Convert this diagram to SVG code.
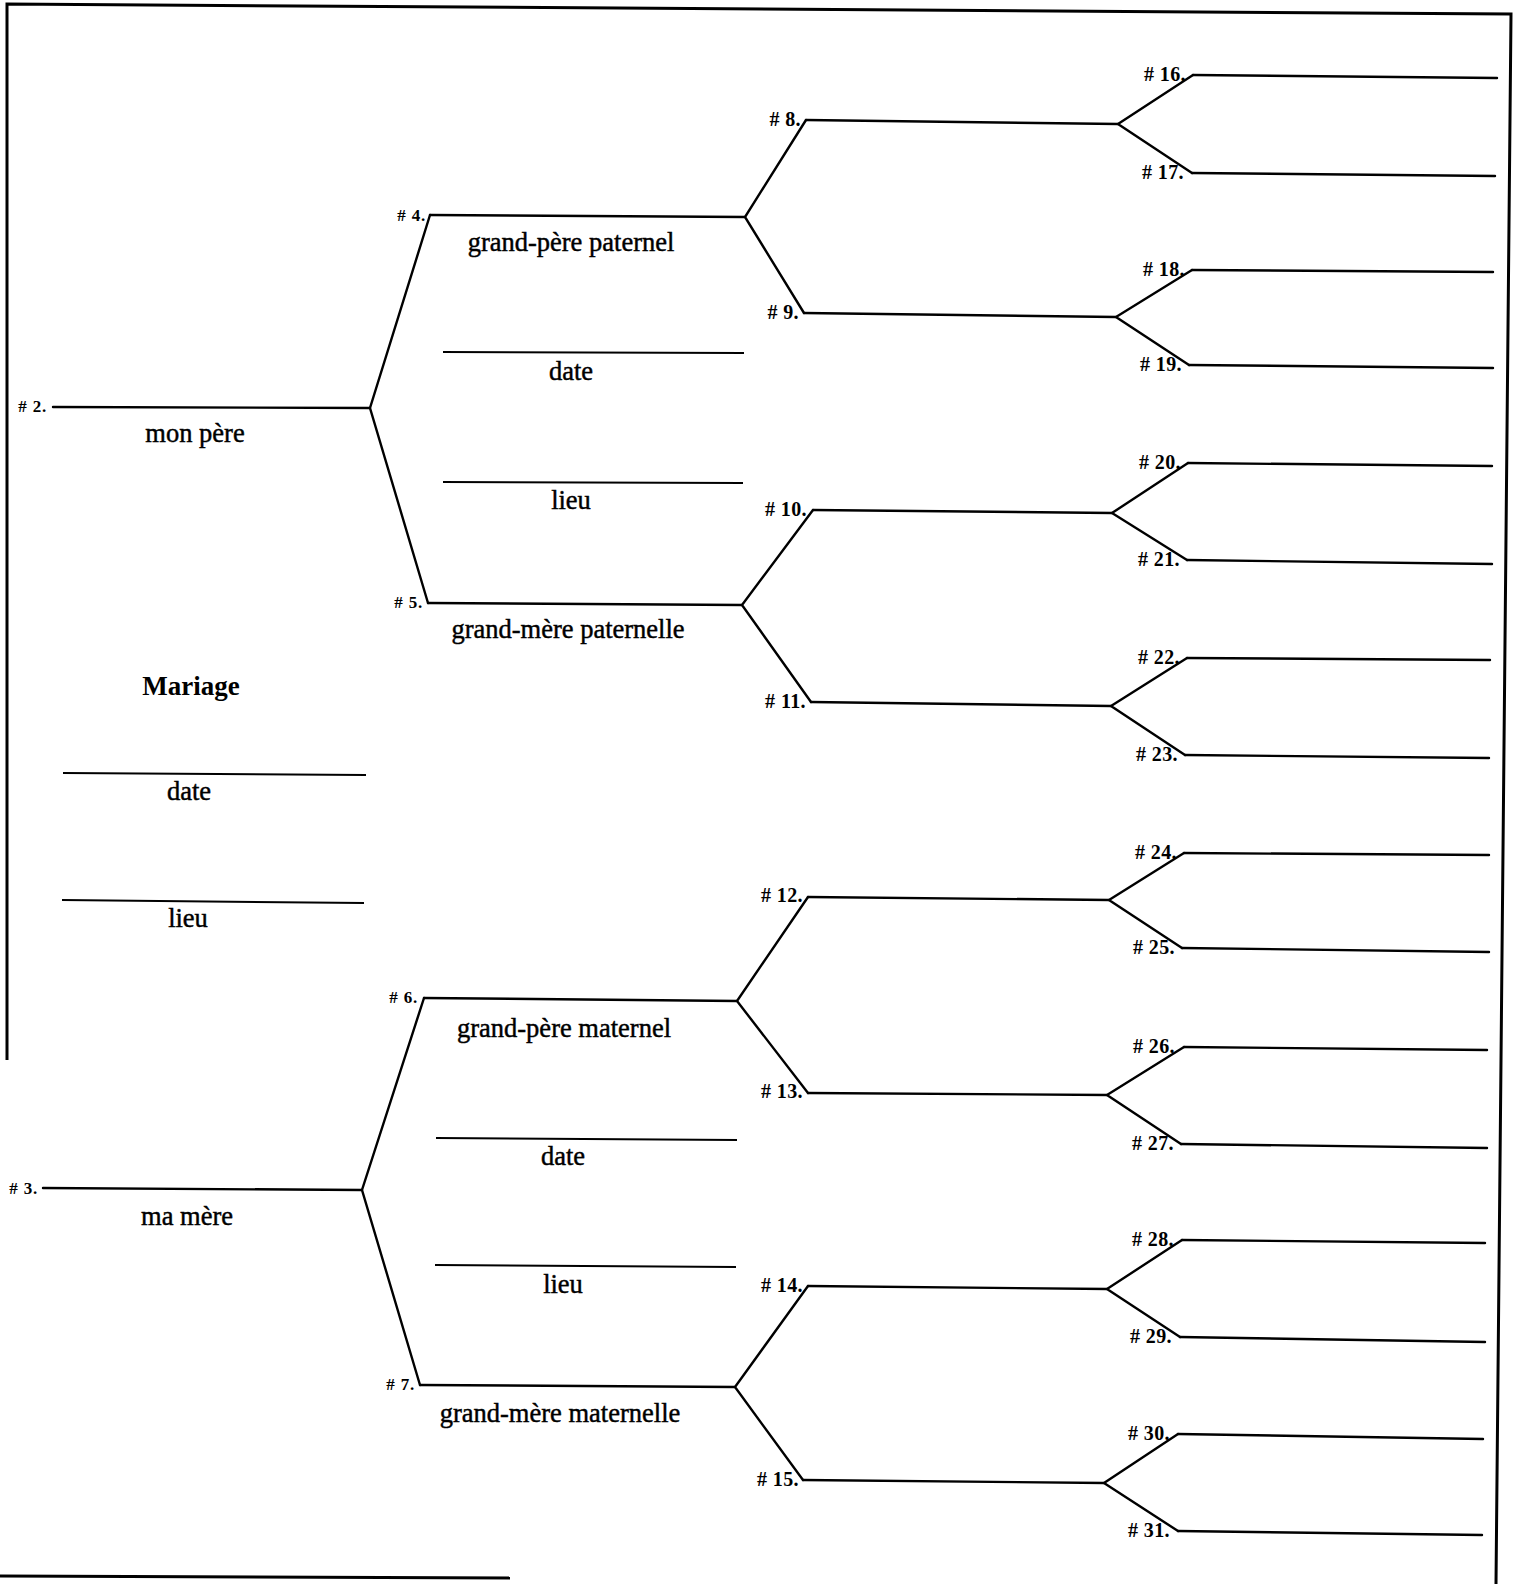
<svg xmlns="http://www.w3.org/2000/svg" width="1522" height="1584" viewBox="0 0 1522 1584">
<style>
.ln{stroke:#000;stroke-width:2.4;fill:none;stroke-linecap:round}
.bl{stroke:#000;stroke-width:2;fill:none}
.bd{stroke:#000;stroke-width:3;fill:none}
.nm{font-family:"Liberation Serif","Times New Roman",serif;font-size:26.5px;fill:#000;stroke:#000;stroke-width:0.45;text-anchor:middle}
.mr{font-family:"Liberation Serif","Times New Roman",serif;font-size:27px;font-weight:bold;fill:#000;text-anchor:middle}
.s{font-family:"Liberation Serif","Times New Roman",serif;font-size:17px;font-weight:bold;letter-spacing:0.8px;fill:#000;text-anchor:end}
.m{font-family:"Liberation Serif","Times New Roman",serif;font-size:20px;font-weight:bold;letter-spacing:0.4px;fill:#000;text-anchor:end}
</style>
<rect width="1522" height="1584" fill="#fff"/>
<g id="border">
<path class="bd" d="M7,1060 L7,4 L1511,14 L1496,1584"/>
<path class="bd" d="M0,1576 L510,1578"/>
</g>
<g id="connectors">
<path class="ln" d="M430,215 L370,408 L428,603"/>
<path class="ln" d="M424,998 L362,1190 L420,1385"/>
<path class="ln" d="M806,120 L745,217 L804,313"/>
<path class="ln" d="M813,510 L742,605 L811,702"/>
<path class="ln" d="M808,897 L737,1001 L808,1093"/>
<path class="ln" d="M808,1286 L735,1387 L803,1480"/>
<path class="ln" d="M1193,75 L1118,124 L1192,173"/>
<path class="ln" d="M1192,270 L1116,317 L1189,365"/>
<path class="ln" d="M1188,463 L1112,513 L1187,560"/>
<path class="ln" d="M1187,658 L1111,706 L1185,755"/>
<path class="ln" d="M1184,853 L1109,900 L1182,948"/>
<path class="ln" d="M1184,1047 L1107,1095 L1181,1144"/>
<path class="ln" d="M1182,1240 L1107,1289 L1180,1337"/>
<path class="ln" d="M1178,1434 L1104,1483 L1178,1531"/>
</g>
<g id="n2"><path class="ln" d="M53,407 L370,408"/><text class="s" x="47" y="412">#  2.</text><text class="nm" x="195" y="442">mon père</text></g>
<g id="n3"><path class="ln" d="M43,1188 L362,1190"/><text class="s" x="38" y="1194">#  3.</text><text class="nm" x="187" y="1225">ma mère</text></g>
<g id="mariage"><text class="mr" x="191" y="695">Mariage</text><path class="bl" d="M63,773 L366,775"/><text class="nm" x="189" y="800">date</text><path class="bl" d="M62,900 L364,903"/><text class="nm" x="188" y="927">lieu</text></g>
<g id="n4"><path class="ln" d="M430,215 L745,217"/><text class="s" x="426" y="221">#  4.</text><text class="nm" x="571" y="251">grand-père paternel</text></g>
<g id="info-paternel"><path class="bl" d="M443,352 L744,353"/><text class="nm" x="571" y="380">date</text><path class="bl" d="M443,482 L743,483"/><text class="nm" x="571" y="509">lieu</text></g>
<g id="n5"><path class="ln" d="M428,603 L742,605"/><text class="s" x="423" y="608">#  5.</text><text class="nm" x="568" y="638">grand-mère paternelle</text></g>
<g id="n6"><path class="ln" d="M424,998 L737,1001"/><text class="s" x="418" y="1003">#  6.</text><text class="nm" x="564" y="1037">grand-père maternel</text></g>
<g id="info-maternel"><path class="bl" d="M436,1138 L737,1140"/><text class="nm" x="563" y="1165">date</text><path class="bl" d="M435,1265 L736,1267"/><text class="nm" x="563" y="1293">lieu</text></g>
<g id="n7"><path class="ln" d="M420,1385 L735,1387"/><text class="s" x="415" y="1390">#  7.</text><text class="nm" x="560" y="1422">grand-mère maternelle</text></g>
<g id="n8"><path class="ln" d="M806,120 L1118,124"/><text class="m" x="801" y="126"># 8.</text></g>
<g id="n9"><path class="ln" d="M804,313 L1116,317"/><text class="m" x="799" y="319"># 9.</text></g>
<g id="n10"><path class="ln" d="M813,510 L1112,513"/><text class="m" x="807" y="516"># 10.</text></g>
<g id="n11"><path class="ln" d="M811,702 L1111,706"/><text class="m" x="806" y="708"># 11.</text></g>
<g id="n12"><path class="ln" d="M808,897 L1109,900"/><text class="m" x="803" y="902"># 12.</text></g>
<g id="n13"><path class="ln" d="M808,1093 L1107,1095"/><text class="m" x="803" y="1098"># 13.</text></g>
<g id="n14"><path class="ln" d="M808,1286 L1107,1289"/><text class="m" x="803" y="1292"># 14.</text></g>
<g id="n15"><path class="ln" d="M803,1480 L1104,1483"/><text class="m" x="799" y="1486"># 15.</text></g>
<g id="n16"><path class="ln" d="M1193,75 L1497,78"/><text class="m" x="1186" y="81"># 16.</text></g>
<g id="n17"><path class="ln" d="M1192,173 L1495,176"/><text class="m" x="1184" y="179"># 17.</text></g>
<g id="n18"><path class="ln" d="M1192,270 L1493,272"/><text class="m" x="1185" y="276"># 18.</text></g>
<g id="n19"><path class="ln" d="M1189,365 L1493,368"/><text class="m" x="1182" y="371"># 19.</text></g>
<g id="n20"><path class="ln" d="M1188,463 L1492,466"/><text class="m" x="1181" y="469"># 20.</text></g>
<g id="n21"><path class="ln" d="M1187,560 L1492,564"/><text class="m" x="1180" y="566"># 21.</text></g>
<g id="n22"><path class="ln" d="M1187,658 L1490,660"/><text class="m" x="1180" y="664"># 22.</text></g>
<g id="n23"><path class="ln" d="M1185,755 L1489,758"/><text class="m" x="1178" y="761"># 23.</text></g>
<g id="n24"><path class="ln" d="M1184,853 L1489,855"/><text class="m" x="1177" y="859"># 24.</text></g>
<g id="n25"><path class="ln" d="M1182,948 L1489,952"/><text class="m" x="1175" y="954"># 25.</text></g>
<g id="n26"><path class="ln" d="M1184,1047 L1487,1050"/><text class="m" x="1175" y="1053"># 26.</text></g>
<g id="n27"><path class="ln" d="M1181,1144 L1487,1148"/><text class="m" x="1174" y="1150"># 27.</text></g>
<g id="n28"><path class="ln" d="M1182,1240 L1485,1243"/><text class="m" x="1174" y="1246"># 28.</text></g>
<g id="n29"><path class="ln" d="M1180,1337 L1485,1342"/><text class="m" x="1172" y="1343"># 29.</text></g>
<g id="n30"><path class="ln" d="M1178,1434 L1483,1439"/><text class="m" x="1170" y="1440"># 30.</text></g>
<g id="n31"><path class="ln" d="M1178,1531 L1482,1535"/><text class="m" x="1170" y="1537"># 31.</text></g>
</svg>
